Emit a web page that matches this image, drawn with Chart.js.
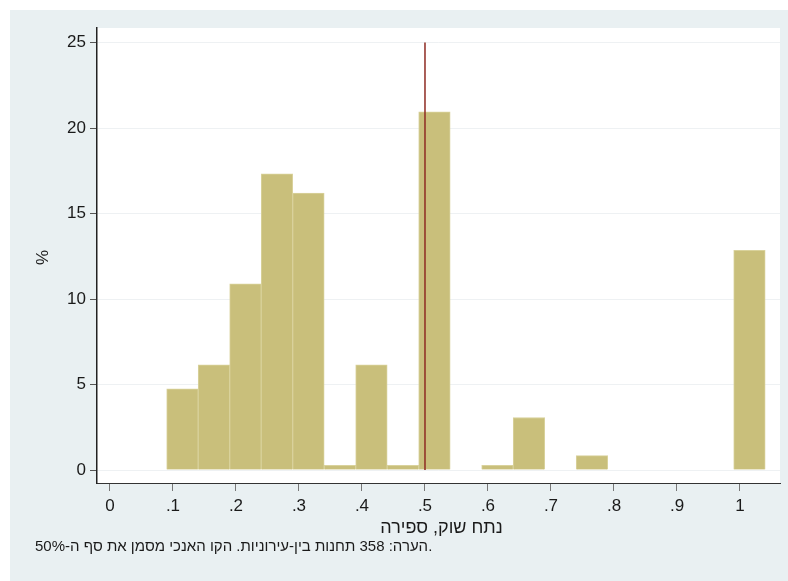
<!DOCTYPE html>
<html>
<head>
<meta charset="utf-8">
<script src="https://cdn.jsdelivr.net/npm/chart.js@4/dist/chart.umd.min.js"></script>
<style>
  html, body { margin: 0; padding: 0; background: #ffffff; }
  #wrap { width: 788px; height: 581px; position: relative; }
</style>
</head>
<body>
<div id="wrap"><canvas id="hist" width="788" height="581"></canvas></div>
<script>
// histogram bins (width .05), centres of each bin
const binCenters = [0.115, 0.165, 0.215, 0.265, 0.315, 0.365, 0.415, 0.465, 0.515, 0.565,
                    0.615, 0.665, 0.715, 0.765, 0.815, 0.865, 0.915, 0.965, 1.015];
// share of stations in each bin, %
const binPercent = [4.75, 6.15, 10.89, 17.32, 16.20, 0.28, 6.15, 0.28, 20.95, 0,
                    0.28, 3.07, 0, 0.84, 0, 0, 0, 0, 12.85];

const xTickValues = [0, 0.1, 0.2, 0.3, 0.4, 0.5, 0.6, 0.7, 0.8, 0.9, 1];
const xTickLabels = ['0', '.1', '.2', '.3', '.4', '.5', '.6', '.7', '.8', '.9', '1'];
const yTickValues = [0, 5, 10, 15, 20, 25];

const thresholdX = 0.5;   // vertical reference line
const thresholdTop = 25;

const xTitle = 'נתח שוק, ספירה';
const yTitle = '%';
const noteText = 'הערה: 358 תחנות בין-עירוניות. הקו האנכי מסמן את סף ה-50%.';

const FONT = '"Liberation Sans", Arial, sans-serif';

// background panel + white plot region
const backdrop = {
  id: 'backdrop',
  beforeDraw(chart) {
    const { ctx, chartArea } = chart;
    ctx.save();
    ctx.fillStyle = '#ffffff';
    ctx.fillRect(0, 0, chart.width, chart.height);
    ctx.fillStyle = '#e9f0f2';
    ctx.fillRect(10, 10, chart.width - 10, chart.height - 10);
    ctx.fillStyle = '#ffffff';
    ctx.fillRect(chartArea.left, chartArea.top,
                 chartArea.right - chartArea.left, chartArea.bottom - chartArea.top);
    ctx.restore();
  }
};

// threshold line and the text labels
const annotations = {
  id: 'annotations',
  afterDatasetsDraw(chart) {
    const { ctx, scales } = chart;
    const x = scales.x.getPixelForValue(thresholdX);
    ctx.save();
    ctx.strokeStyle = '#8e2a22';
    ctx.lineWidth = 1.5;
    ctx.beginPath();
    ctx.moveTo(x, scales.y.getPixelForValue(thresholdTop));
    ctx.lineTo(x, scales.y.getPixelForValue(0));
    ctx.stroke();
    ctx.restore();
  },
  afterDraw(chart) {
    const { ctx, chartArea } = chart;
    ctx.save();
    ctx.fillStyle = '#1a1a1a';
    ctx.textBaseline = 'middle';

    // x axis title
    ctx.font = '18px ' + FONT;
    ctx.textAlign = 'center';
    ctx.fillText(xTitle, (chartArea.left + chartArea.right) / 2 + 3, 528);

    // y axis title
    ctx.save();
    ctx.translate(43, (chartArea.top + chartArea.bottom) / 2 + 2);
    ctx.rotate(-Math.PI / 2);
    ctx.font = '17px ' + FONT;
    ctx.fillText(yTitle, 0, 0);
    ctx.restore();

    // footnote
    ctx.font = '15px ' + FONT;
    ctx.textAlign = 'left';
    ctx.fillText(noteText, 35, 547);
    ctx.restore();
  }
};

const ctx = document.getElementById('hist').getContext('2d');
new Chart(ctx, {
  type: 'bar',
  data: {
    datasets: [{
      data: binCenters.map((c, i) => ({ x: c, y: binPercent[i] })),
      backgroundColor: '#c9bf7b',
      borderColor: '#d9d29c',
      borderWidth: 1,
      borderSkipped: 'bottom',
      barPercentage: 1,
      categoryPercentage: 1
    }]
  },
  plugins: [backdrop, annotations],
  options: {
    responsive: false,
    animation: false,
    events: [],
    layout: { padding: { left: 0, top: 28, right: 8, bottom: 0 } },
    plugins: {
      legend: { display: false },
      tooltip: { enabled: false }
    },
    scales: {
      x: {
        type: 'linear',
        offset: false,
        min: -0.0206,
        max: 1.0635,
        afterBuildTicks: (scale) => { scale.ticks = xTickValues.map(v => ({ value: v })); },
        afterFit: (scale) => { scale.height = 98; },
        ticks: {
          autoSkip: false,
          maxRotation: 0,
          padding: 5,
          color: '#1a1a1a',
          font: { family: FONT, size: 17 },
          callback: (v, i) => xTickLabels[i]
        },
        grid: {
          offset: false,
          drawOnChartArea: false,
          tickColor: '#777777',
          tickLength: 8
        },
        border: { color: '#333333', width: 1 }
      },
      y: {
        type: 'linear',
        min: -0.76,
        max: 25.85,
        afterBuildTicks: (scale) => { scale.ticks = yTickValues.map(v => ({ value: v })); },
        afterFit: (scale) => { scale.width = 97; },
        ticks: {
          padding: 4,
          color: '#1a1a1a',
          font: { family: FONT, size: 17 }
        },
        grid: {
          color: '#eef1f3',
          lineWidth: 1,
          tickColor: '#555555',
          tickLength: 7
        },
        border: { color: '#222222', width: 1.5 }
      }
    }
  }
});
</script>
</body>
</html>
